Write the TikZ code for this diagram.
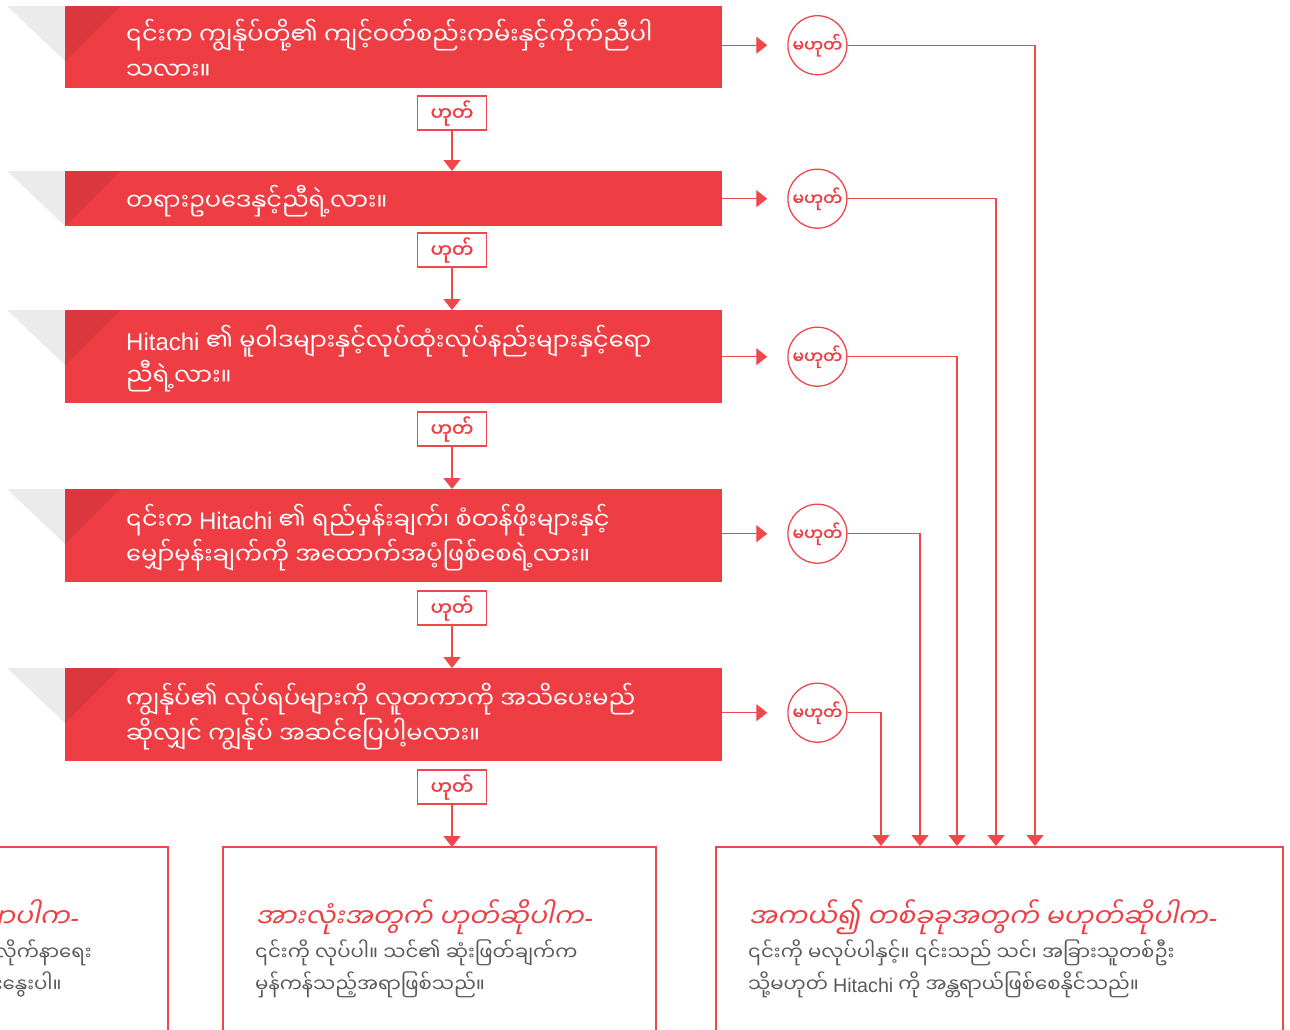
\documentclass[tikz,border=0pt]{standalone}
\usepackage{fontspec}
\usetikzlibrary{arrows.meta,calc}
\newfontfamily\mya[Script=Myanmar]{Noto Sans Myanmar UI}
\newfontfamily\myabf[Script=Myanmar,FakeBold=1.6]{Noto Sans Myanmar UI}
\newfontfamily\myait[Script=Myanmar,FakeSlant=0.22]{Noto Sans Myanmar UI}
\newfontfamily\lat{Liberation Sans}
\newfontfamily\latit[FakeSlant=0.22]{Liberation Sans}
\definecolor{hred}{HTML}{EE3E44}
\definecolor{hdark}{HTML}{DA383E}
\definecolor{hgrey}{HTML}{EBEBEB}
\definecolor{htext}{HTML}{5A5A5A}
\definecolor{hline}{HTML}{EF474C}
\tikzset{
  redbox/.style={fill=hred, draw=none, inner sep=0, anchor=north west, minimum width=657pt},
  boxtxt/.style={text=white, font=\mya\fontsize{24}{35}\selectfont, align=left, anchor=west, inner sep=0},
  yesbox/.style={draw=hline, line width=1.3pt, fill=white, minimum width=69pt, minimum height=34pt, inner sep=0, text=hred, font=\myabf\fontsize{19}{20}\selectfont},
  nocirc/.style={circle, draw=hline, line width=1.3pt, minimum size=59pt, inner sep=0, text=hred, font=\myabf\fontsize{17}{18}\selectfont},
  arr/.style={draw=hline, line width=1.3pt, -{Triangle[width=17pt,length=11pt]}},
  outbox/.style={draw=hline, line width=1.5pt},
  ttl/.style={text=hred, font=\myait\fontsize{26.5}{30}\selectfont, inner sep=0, anchor=base west},
  body/.style={text=htext, font=\mya\fontsize{19.7}{32}\selectfont, inner sep=0, anchor=base west},
}
\newcommand{\deco}[1]{%
  \fill[hgrey] (7,#1) -- (65,#1) -- (65,#1+55) -- cycle;
}
\newcommand{\decodark}[1]{%
  \fill[hdark] (65,#1) -- (120,#1) -- (65,#1+55) -- cycle;
}
\newcommand{\hy}{{\latit -}}
\begin{document}
\begin{tikzpicture}[x=1pt,y=-1pt]
\useasboundingbox (0,0) rectangle (1290,1029);
\clip (0,0) rectangle (1290,1029);

% grey decorations
\deco{6}\deco{171}\deco{310}\deco{489}\deco{668}

% red question boxes
\node[redbox, minimum height=82pt] (b1) at (65,6) {};
\node[redbox, minimum height=55pt] (b2) at (65,171) {};
\node[redbox, minimum height=93pt] (b3) at (65,310) {};
\node[redbox, minimum height=93pt] (b4) at (65,489) {};
\node[redbox, minimum height=93pt] (b5) at (65,668) {};

\decodark{6}\decodark{171}\decodark{310}\decodark{489}\decodark{668}

\node[boxtxt] (q1) at (126,49) {၎င်းက ကျွန်ုပ်တို့၏ ကျင့်ဝတ်စည်းကမ်းနှင့်ကိုက်ညီပါ\\သလား။};
\node[boxtxt] (q2) at (126,201) {တရားဥပဒေနှင့်ညီရဲ့လား။};
\node[boxtxt] (q3) at (126,359) {{\lat Hitachi} ၏ မူဝါဒများနှင့်လုပ်ထုံးလုပ်နည်းများနှင့်ရော\\ညီရဲ့လား။};
\node[boxtxt] (q4) at (126,538) {၎င်းက {\lat Hitachi} ၏ ရည်မှန်းချက်၊ စံတန်ဖိုးများနှင့်\\မျှော်မှန်းချက်ကို အထောက်အပံ့ဖြစ်စေရဲ့လား။};
\node[boxtxt] (q5) at (126,717) {ကျွန်ုပ်၏ လုပ်ရပ်များကို လူတကာကို အသိပေးမည်\\ဆိုလျှင် ကျွန်ုပ် အဆင်ပြေပါ့မလား။};

% yes boxes
\node[yesbox] (y1) at (452,113) {ဟုတ်};
\node[yesbox] (y2) at (452,250) {ဟုတ်};
\node[yesbox] (y3) at (452,429) {ဟုတ်};
\node[yesbox] (y4) at (452,608) {ဟုတ်};
\node[yesbox] (y5) at (452,787) {ဟုတ်};

% no circles
\node[nocirc] (c1) at ([xshift=95pt,yshift=2pt]b1.east) {မဟုတ်};
\node[nocirc] (c2) at ([xshift=95pt]b2.east) {မဟုတ်};
\node[nocirc] (c3) at ([xshift=95pt]b3.east) {မဟုတ်};
\node[nocirc] (c4) at ([xshift=95pt,yshift=2pt]b4.east) {မဟုတ်};
\node[nocirc] (c5) at ([xshift=95pt,yshift=2pt]b5.east) {မဟုတ်};

% bottom boxes
\draw[outbox] (-50,847) rectangle (168,1060);
\draw[outbox] (223,847) rectangle (656,1060);
\draw[outbox] (716,847) rectangle (1283,1060);
\coordinate (yesend) at (452,847);
\coordinate (d1) at (1035,846);
\coordinate (d2) at (996,846);
\coordinate (d3) at (957,846);
\coordinate (d4) at (920,846);
\coordinate (d5) at (881,846);

% connectors down
\draw[arr] (y1.south) -- (y1.south |- b2.north);
\draw[arr] (y2.south) -- (y2.south |- b3.north);
\draw[arr] (y3.south) -- (y3.south |- b4.north);
\draw[arr] (y4.south) -- (y4.south |- b5.north);
\draw[arr] (y5.south) -- (yesend);

% connectors right
\foreach \i in {1,...,5}{
  \draw[arr, shorten >=20pt] (b\i.east |- c\i) -- (c\i.west);
  \draw[arr] (c\i.east) -| (d\i);
}

% bottom texts
\node[ttl, anchor=base east] (lt) at (78,927) {မသေချာပါက\hy};
\node[body, anchor=base east] (lb1) at (92,960) {ကျင့်ဝတ်နှင့် လိုက်နာရေး};
\node[body, anchor=base east] (lb2) at (62,992) {သက်ဆိုင်ရာဌာနနှင့် ဆွေးနွေးပါ။};

\node[ttl] (mt) at (255,927) {အားလုံးအတွက် ဟုတ်ဆိုပါက\hy};
\node[body] (mb1) at (255,960) {၎င်းကို လုပ်ပါ။ သင်၏ ဆုံးဖြတ်ချက်က};
\node[body] (mb2) at (255,992) {မှန်ကန်သည့်အရာဖြစ်သည်။};

\node[ttl] (rt) at (748,927) {အကယ်၍ တစ်ခုခုအတွက် မဟုတ်ဆိုပါက\hy};
\node[body] (rb1) at (748,960) {၎င်းကို မလုပ်ပါနှင့်။ ၎င်းသည် သင်၊ အခြားသူတစ်ဦး};
\node[body] (rb2) at (748,992) {သို့မဟုတ် {\lat Hitachi} ကို အန္တရာယ်ဖြစ်စေနိုင်သည်။};
\end{tikzpicture}
\end{document}
